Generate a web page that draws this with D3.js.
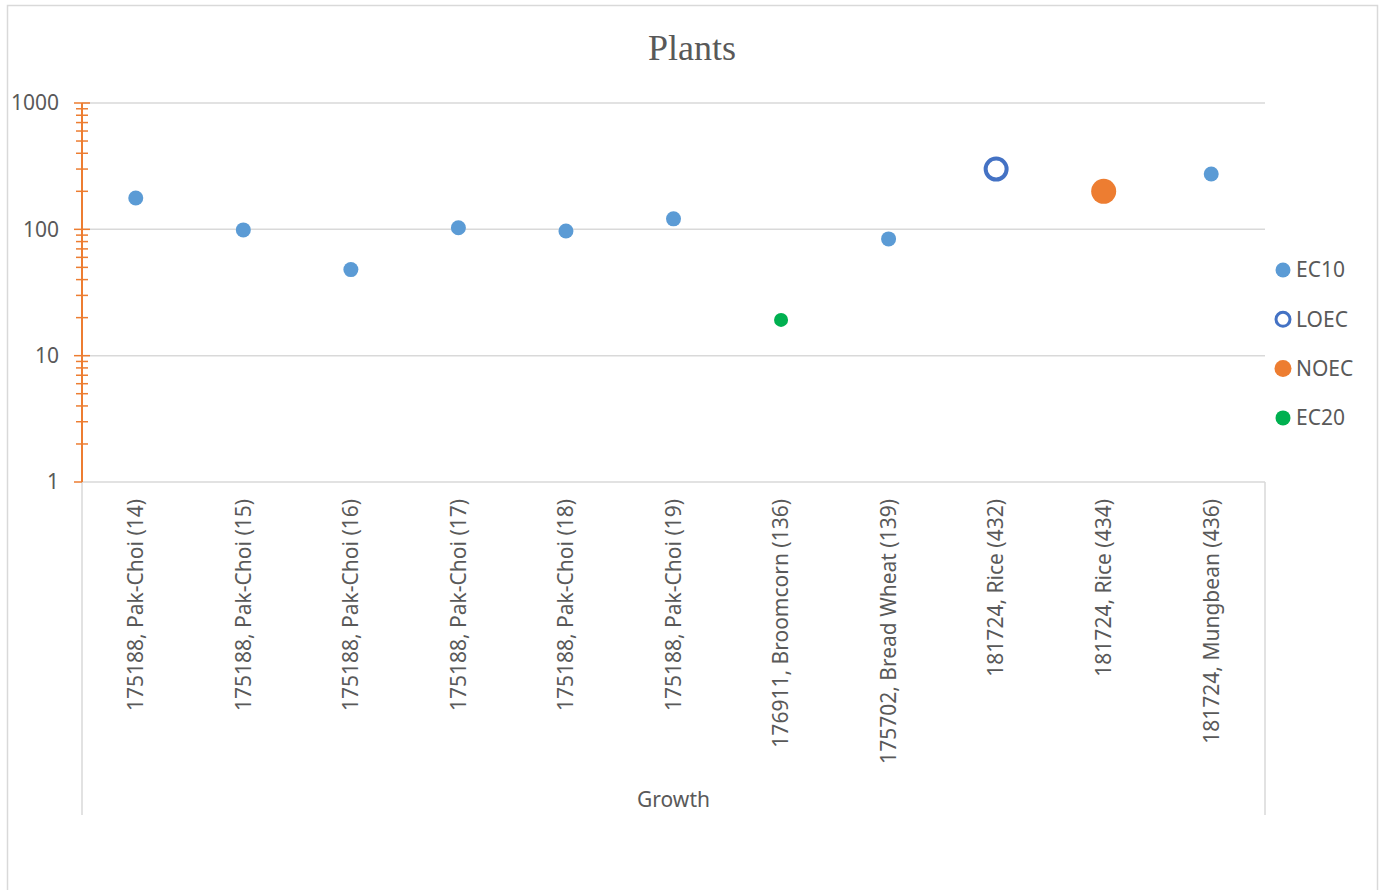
<!DOCTYPE html>
<html>
<head>
<meta charset="utf-8">
<script src="https://cdn.jsdelivr.net/npm/d3@7"></script>
<style>
  html, body { margin: 0; padding: 0; background: #fff; }
  svg { display: block; }
  text { font-family: "Noto Sans", sans-serif; fill: #595959; }
</style>
</head>
<body>
<svg id="chart" width="1385" height="890"></svg>
<script>
// Categories along the x axis (study id, species and record number)
const categories = [
  "175188, Pak-Choi (14)",
  "175188, Pak-Choi (15)",
  "175188, Pak-Choi (16)",
  "175188, Pak-Choi (17)",
  "175188, Pak-Choi (18)",
  "175188, Pak-Choi (19)",
  "176911, Broomcorn (136)",
  "175702, Bread Wheat (139)",
  "181724, Rice (432)",
  "181724, Rice (434)",
  "181724, Mungbean (436)"
];

// Endpoint values per category (null where the endpoint is not reported)
const ec10 = [177, 99, 48, 103, 97, 121, null, 84, null, null, 274];
const loec = [null, null, null, null, null, null, null, null, 300, null, null];
const noec = [null, null, null, null, null, null, null, null, null, 200, null];
const ec20 = [null, null, null, null, null, null, 19.2, null, null, null, null];

const yTickLabels = ["1", "10", "100", "1000"];
const groupLabel = "Growth";
const title = "Plants";

const series = [
  { name: "EC10", values: ec10, fill: "#5B9BD5", stroke: "none", r: 7.5, sw: 0, lr: 7.5, lsw: 0 },
  { name: "LOEC", values: loec, fill: "#fff", stroke: "#4472C4", r: 10.5, sw: 4, lr: 7, lsw: 3 },
  { name: "NOEC", values: noec, fill: "#ED7D31", stroke: "none", r: 12.5, sw: 0, lr: 8.5, lsw: 0 },
  { name: "EC20", values: ec20, fill: "#00B050", stroke: "none", r: 7, sw: 0, lr: 7.5, lsw: 0 }
];

const svg = d3.select("#chart");
const grey = "#D9D9D9";
const orange = "#ED7D31";
const fontSize = "21px";

// Chart frame
svg.append("rect")
  .attr("x", 7.5).attr("y", 5.5)
  .attr("width", 1370).attr("height", 900)
  .attr("fill", "#fff").attr("stroke", grey).attr("stroke-width", 1.5);

const plot = { left: 82, right: 1265, top: 103, bottom: 482 };

const x = d3.scaleBand()
  .domain(categories)
  .range([plot.left, plot.right]);

const y = d3.scaleLog()
  .domain([1, 1000])
  .range([plot.bottom, plot.top]);

// Title
svg.append("text")
  .attr("x", 692).attr("y", 60)
  .attr("text-anchor", "middle")
  .style("font-family", "'Liberation Serif', 'Times New Roman', serif")
  .style("font-size", "36px")
  .text(title);

// Horizontal gridlines at each decade
svg.append("g")
  .selectAll("line")
  .data(yTickLabels.map(Number))
  .join("line")
  .attr("x1", plot.left).attr("x2", plot.right)
  .attr("y1", d => y(d)).attr("y2", d => y(d))
  .attr("stroke", grey).attr("stroke-width", 1.5);

// Category group bracket lines below the axis
svg.append("g")
  .selectAll("line")
  .data([plot.left, plot.right])
  .join("line")
  .attr("x1", d => d).attr("x2", d => d)
  .attr("y1", plot.bottom).attr("y2", 815)
  .attr("stroke", grey).attr("stroke-width", 1.5);

// Y axis: orange line with major and minor crossing ticks
const yAxis = svg.append("g");
yAxis.append("line")
  .attr("x1", plot.left).attr("x2", plot.left)
  .attr("y1", plot.top).attr("y2", plot.bottom)
  .attr("stroke", orange).attr("stroke-width", 2);

const allTicks = y.ticks();
const majors = new Set(yTickLabels.map(Number));
yAxis.selectAll("line.tick")
  .data(allTicks)
  .join("line")
  .attr("class", "tick")
  .attr("x1", d => majors.has(d) ? plot.left - 8 : plot.left - 6)
  .attr("x2", d => majors.has(d) ? (d === 1 ? plot.left : plot.left + 8) : plot.left + 6)
  .attr("y1", d => y(d)).attr("y2", d => y(d))
  .attr("stroke", orange).attr("stroke-width", 1.5);

yAxis.selectAll("text")
  .data(yTickLabels)
  .join("text")
  .attr("x", 59)
  .attr("y", d => y(+d))
  .attr("dy", "0.35em")
  .attr("text-anchor", "end")
  .style("font-size", fontSize)
  .text(d => d);

// Rotated category labels
svg.append("g")
  .selectAll("text")
  .data(categories)
  .join("text")
  .attr("transform", d => `translate(${x(d) + x.bandwidth() / 2},499) rotate(-90)`)
  .attr("dy", "0.35em")
  .attr("text-anchor", "end")
  .style("font-size", fontSize)
  .text(d => d);

// Group label
svg.append("text")
  .attr("x", (plot.left + plot.right) / 2)
  .attr("y", 800)
  .attr("dy", "0.35em")
  .attr("text-anchor", "middle")
  .style("font-size", fontSize)
  .text(groupLabel);

// Markers
series.forEach(s => {
  svg.append("g")
    .selectAll("circle")
    .data(categories.map((c, i) => ({ c, v: s.values[i] })).filter(d => d.v != null))
    .join("circle")
    .attr("cx", d => x(d.c) + x.bandwidth() / 2)
    .attr("cy", d => y(d.v))
    .attr("r", s.r)
    .attr("fill", s.fill)
    .attr("stroke", s.stroke)
    .attr("stroke-width", s.sw);
});

// Legend
const legend = svg.append("g")
  .selectAll("g")
  .data(series)
  .join("g")
  .attr("transform", (d, i) => `translate(1283,${270 + i * 49.3})`);

legend.append("circle")
  .attr("r", d => d.lr)
  .attr("fill", d => d.fill)
  .attr("stroke", d => d.stroke)
  .attr("stroke-width", d => d.lsw);

legend.append("text")
  .attr("x", 13)
  .attr("dy", "0.35em")
  .style("font-size", fontSize)
  .text(d => d.name);
</script>
</body>
</html>
